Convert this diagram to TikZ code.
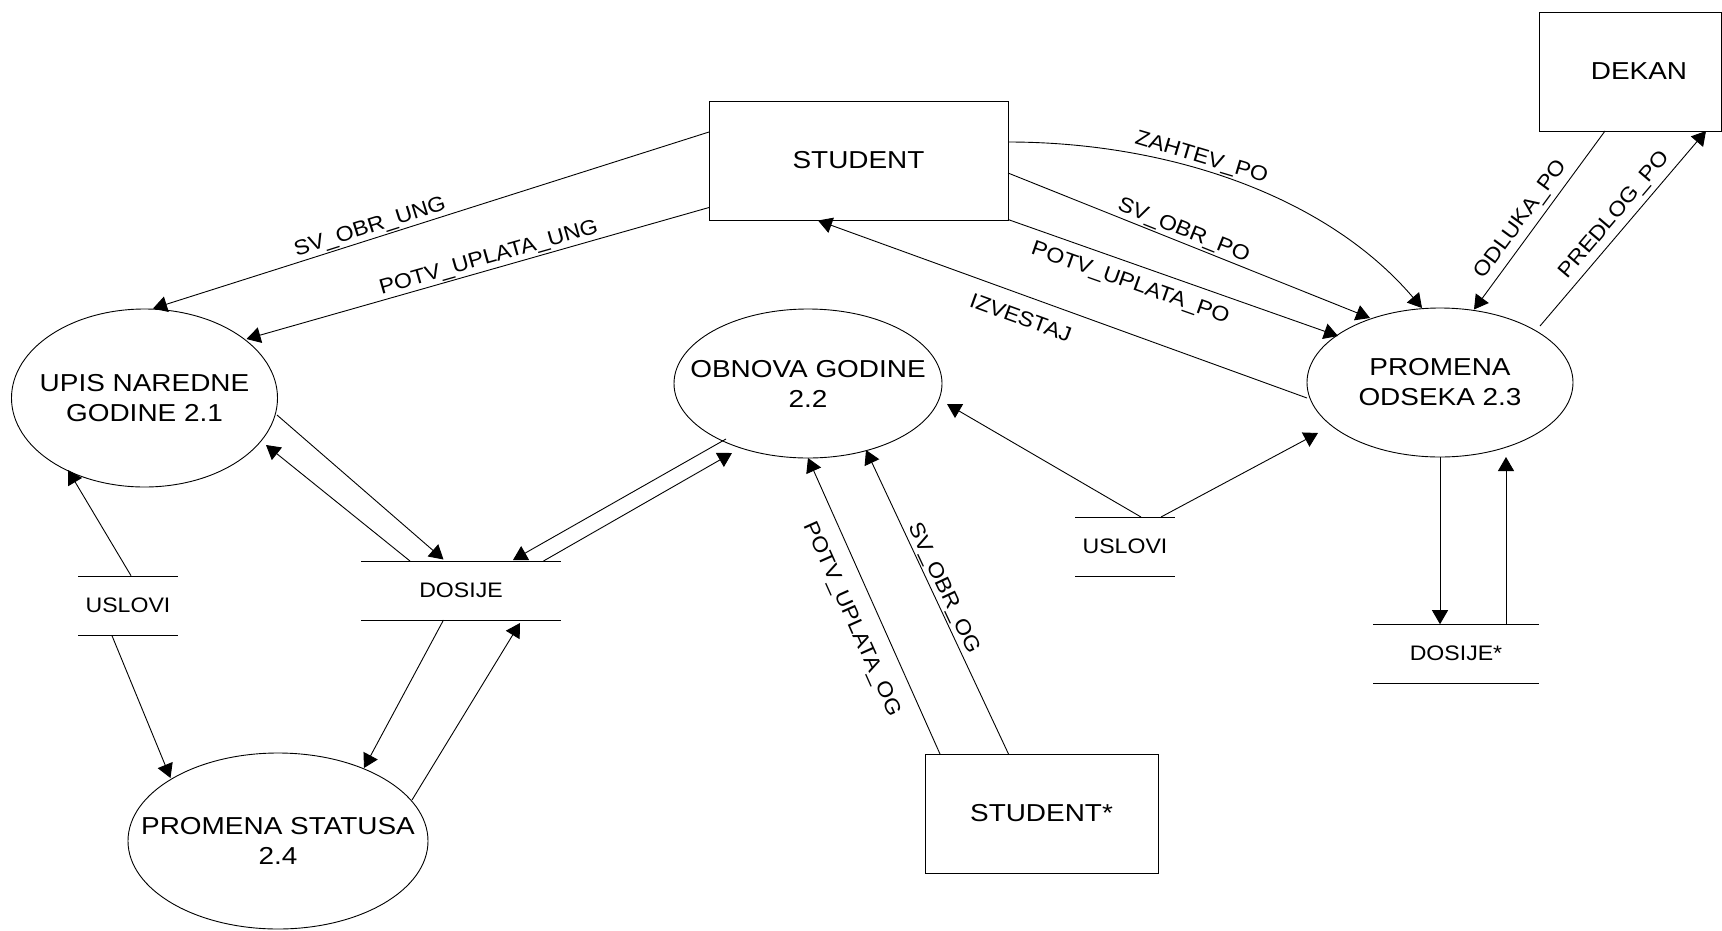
\documentclass[tikz,border=0pt]{standalone}
\usepackage{fontspec}
\setmainfont{Liberation Sans}[FakeStretch=1.1]
\newfontfamily\dfdwide{Liberation Sans}[FakeStretch=1.14]
\usetikzlibrary{arrows.meta,calc,shapes.geometric}

\newcommand{\dfdbig}{\dfdwide\fontsize{24.5}{30}\selectfont}
\newcommand{\dfdsmall}{\fontsize{21}{25}\selectfont}

\begin{document}
\begin{tikzpicture}[x=1pt, y=-1pt, line width=0.9pt,
  entity/.style={draw, rectangle, minimum height=119pt, inner sep=0pt, outer sep=0pt, font=\dfdbig},
  process/.style={draw, ellipse, inner sep=0pt, outer sep=0pt},
  ptext/.style={font=\dfdbig, align=center, inner sep=0pt},
  store/.style={inner sep=0pt, outer sep=0pt, minimum height=59pt, font=\dfdsmall},
  flow/.style={-{Triangle[length=14pt,width=16pt]}},
  lab/.style={font=\dfdsmall, sloped, above, inner sep=1.5pt},
  labb/.style={font=\dfdsmall, sloped, below, inner xsep=0pt, inner ysep=#1},
]
% page
\fill[white] (0,0) rectangle (1722,930);

% external entities
\node[entity, minimum width=299pt] (student) at (858.5,160.5) {STUDENT};
\node[entity, minimum width=182pt] (dekan) at (1630,71.5) {\hspace*{18pt}DEKAN};
\node[entity, minimum width=233pt] (studs) at (1041.5,813.5) {STUDENT*};

% processes
\node[process, minimum width=266pt, minimum height=178pt,
      label={[ptext]center:UPIS NAREDNE\\GODINE 2.1}] (upis) at (144.5,398) {};
\node[process, minimum width=268pt, minimum height=149pt,
      label={[ptext]center:OBNOVA GODINE\\2.2}] (obnova) at (808,383.5) {};
\node[process, minimum width=266pt, minimum height=149pt,
      label={[ptext]center:PROMENA\\ODSEKA 2.3}] (odsek) at (1440,382.5) {};
\node[process, minimum width=300pt, minimum height=176pt,
      label={[ptext]center:PROMENA STATUSA\\2.4}] (status) at (278,841) {};

% data stores
\node[store, minimum width=100pt] (uslA) at (128,605.7) {USLOVI};
\node[store, minimum width=200pt] (dosije) at (461,590.5) {DOSIJE};
\node[store, minimum width=100pt] (uslB) at (1125,546.5) {USLOVI};
\node[store, minimum width=166pt] (dosijeS) at (1456,653.7) {DOSIJE*};
\foreach \s in {uslA,dosije,uslB,dosijeS}
  \draw (\s.north west) -- (\s.north east) (\s.south west) -- (\s.south east);

% flows from STUDENT
\draw[flow] ($(student)+(-149.5,-28.5)$) -- node[lab, pos=0.603] {SV\_OBR\_UNG} ($(upis)+(8.5,-89.5)$);
\draw[flow] ($(student)+(-149.5,47)$) -- node[lab, pos=0.469] {POTV\_UPLATA\_UNG} ($(upis)+(102,-59)$);
\draw[flow] ($(student)+(149.5,-18.5)$) .. controls ($(student)+(306.5,-18.5)$) and ($(odsek)+(-115,-188.5)$)
  .. node[lab, pos=0.41] {ZAHTEV\_PO} ($(odsek)+(-18,-74.5)$);
\draw[flow] ($(student)+(149.5,12.5)$) -- node[lab, pos=0.473] {SV\_OBR\_PO} ($(odsek)+(-70,-64.5)$);
\draw[flow] ($(student)+(149.5,59)$) -- node[labb=10pt, pos=0.39] {POTV\_UPLATA\_PO} ($(odsek)+(-102,-46.5)$);
\draw[flow] ($(odsek)+(-133,15.5)$) -- node[labb=14pt, pos=0.57] {IZVESTAJ} ($(student)+(-40.5,60)$);

% DEKAN
\draw[flow] ($(dekan)+(-25,59.5)$) -- node[lab, inner sep=5pt, pos=0.546] {ODLUKA\_PO} ($(odsek)+(34,-73)$);
\draw[flow] ($(odsek)+(100,-56.5)$) -- node[lab, inner sep=5pt, pos=0.519] {PREDLOG\_PO} ($(dekan)+(76,59.5)$);

% DOSIJE
\draw[flow] ($(upis)+(132.5,17)$) -- ($(dosije)+(-17.5,-31)$);
\draw[flow] ($(dosije)+(-51,-29.5)$) -- ($(upis)+(121.5,47)$);
\draw[flow] ($(obnova)+(-82,55.5)$) -- ($(dosije)+(52,-30.5)$);
\draw[flow] ($(dosije)+(82.5,-29.5)$) -- ($(obnova)+(-76,69.5)$);
\draw[flow] ($(dosije)+(-17.5,29.5)$) -- ($(status)+(86,-73)$);
\draw[flow] ($(status)+(134,-41)$) -- ($(dosije)+(59,32.5)$);

% USLOVI
\draw[flow] ($(uslA)+(3,-30)$) -- ($(upis)+(-76.5,72)$);
\draw[flow] ($(uslA)+(-16,30)$) -- ($(status)+(-107.5,-63)$);
\draw[flow] ($(uslB)+(16,-29.5)$) -- ($(obnova)+(139,20.5)$);
\draw[flow] ($(uslB)+(36,-29.5)$) -- ($(odsek)+(-122,50.5)$);

% STUDENT*
\draw[flow] ($(studs)+(-101.5,-59.5)$) -- node[labb=16pt, pos=0.491] {POTV\_UPLATA\_OG} ($(obnova)+(0,74.5)$);
\draw[flow] ($(studs)+(-33,-59.5)$) -- node[lab, pos=0.529] {SV\_OBR\_OG} ($(obnova)+(58,66.5)$);

% DOSIJE*
\draw[flow] (odsek.south) -- (odsek.south |- dosijeS.north);
\draw[flow] ($(dosijeS.north)+(50,0)$) -- ($(odsek)+(66,74.5)$);
\end{tikzpicture}
\end{document}
